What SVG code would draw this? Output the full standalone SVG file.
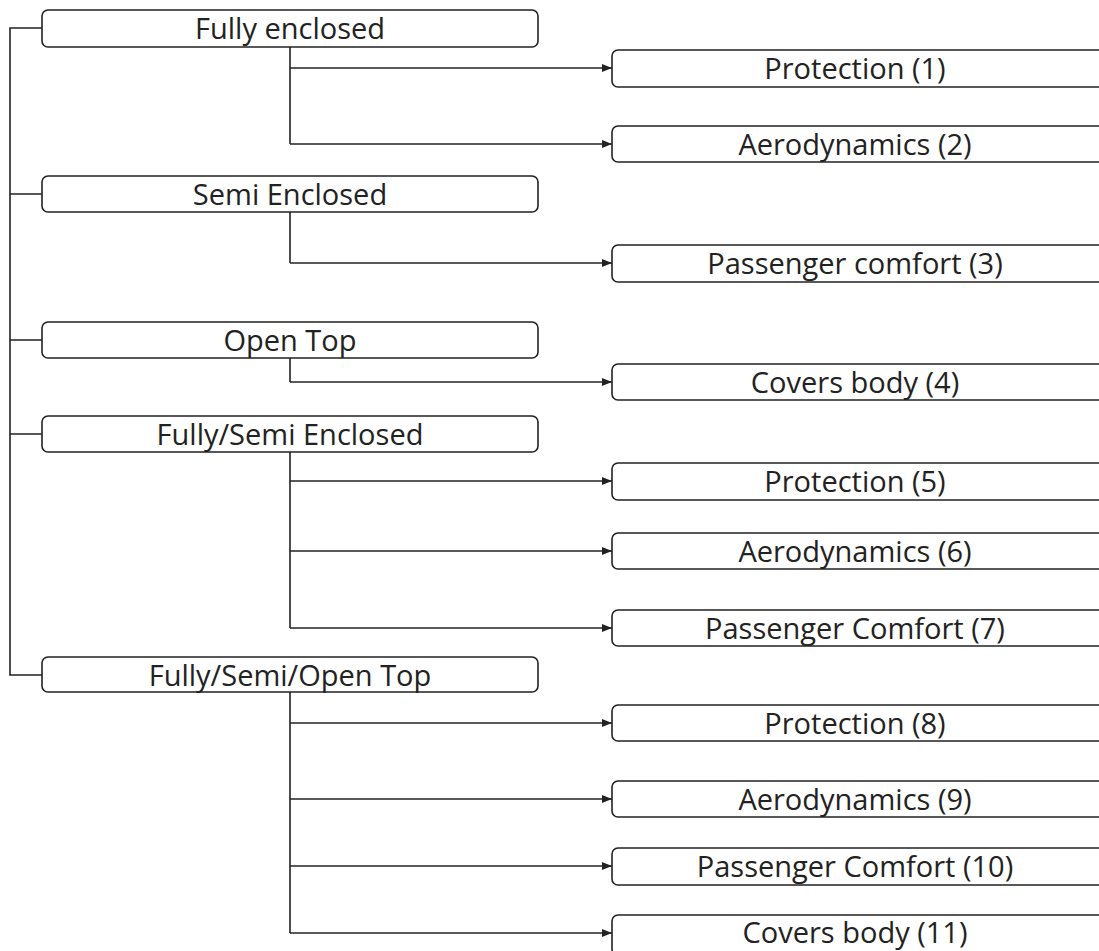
<svg xmlns="http://www.w3.org/2000/svg" width="1099" height="951" viewBox="0 0 1099 951">
  <style>
    .box { fill: #ffffff; stroke: #222222; stroke-width: 1.6; }
    .lbl { font-family: "Open Sans", "Noto Sans", sans-serif; font-size: 29px; fill: #222222; text-anchor: middle; }
    .wire { fill: none; stroke: #222222; stroke-width: 1.6; }
    .arrow { fill: none; stroke: #222222; stroke-width: 1.6; marker-end: url(#head); }
  </style>
  <defs>
    <marker id="head" viewBox="0 0 10 8" refX="10" refY="4" markerWidth="10" markerHeight="8" markerUnits="userSpaceOnUse" orient="auto">
      <path d="M0,0 L10,4 L0,8 Z" fill="#222222"/>
    </marker>
  </defs>
  <rect width="1099" height="951" fill="#ffffff"/>

  <g id="connectors">
    <!-- spine -->
    <path class="wire" d="M42,28 H10 V675 H42"/>
    <path class="wire" d="M10,194 H42 M10,340 H42 M10,434 H42"/>
    <!-- Fully enclosed -->
    <path class="wire" d="M290,47 V144"/>
    <path class="arrow" d="M290,68 H612"/>
    <path class="arrow" d="M290,144 H612"/>
    <!-- Semi Enclosed -->
    <path class="wire" d="M290,212 V263"/>
    <path class="arrow" d="M290,263 H612"/>
    <!-- Open Top -->
    <path class="wire" d="M290,358 V382"/>
    <path class="arrow" d="M290,382 H612"/>
    <!-- Fully/Semi Enclosed -->
    <path class="wire" d="M290,452 V628"/>
    <path class="arrow" d="M290,481 H612"/>
    <path class="arrow" d="M290,551 H612"/>
    <path class="arrow" d="M290,628 H612"/>
    <!-- Fully/Semi/Open Top -->
    <path class="wire" d="M290,692 V933"/>
    <path class="arrow" d="M290,723 H612"/>
    <path class="arrow" d="M290,799 H612"/>
    <path class="arrow" d="M290,866 H612"/>
    <path class="arrow" d="M290,933 H612"/>
  </g>

  <g id="fully-enclosed"><rect class="box" x="42" y="10" width="496" height="37" rx="6"/><text class="lbl" x="290" y="38.5">Fully enclosed</text></g>
  <g id="semi-enclosed"><rect class="box" x="42" y="176" width="496" height="36" rx="6"/><text class="lbl" x="290" y="204.5">Semi Enclosed</text></g>
  <g id="open-top"><rect class="box" x="42" y="322" width="496" height="36" rx="6"/><text class="lbl" x="290" y="350.5">Open Top</text></g>
  <g id="fully-semi-enclosed"><rect class="box" x="42" y="416" width="496" height="36" rx="6"/><text class="lbl" x="290" y="444.5">Fully/Semi Enclosed</text></g>
  <g id="fully-semi-open-top"><rect class="box" x="42" y="657" width="496" height="35" rx="6"/><text class="lbl" x="290" y="685.5">Fully/Semi/Open Top</text></g>

  <g id="protection-1"><rect class="box" x="612" y="50" width="494" height="37" rx="6"/><text class="lbl" x="855" y="78.5">Protection (1)</text></g>
  <g id="aerodynamics-2"><rect class="box" x="612" y="126" width="494" height="36" rx="6"/><text class="lbl" x="855" y="154.5">Aerodynamics (2)</text></g>
  <g id="passenger-comfort-3"><rect class="box" x="612" y="245" width="494" height="37" rx="6"/><text class="lbl" x="855" y="273.5">Passenger comfort (3)</text></g>
  <g id="covers-body-4"><rect class="box" x="612" y="364" width="494" height="36" rx="6"/><text class="lbl" x="855" y="392.5">Covers body (4)</text></g>
  <g id="protection-5"><rect class="box" x="612" y="463" width="494" height="37" rx="6"/><text class="lbl" x="855" y="491.5">Protection (5)</text></g>
  <g id="aerodynamics-6"><rect class="box" x="612" y="533" width="494" height="36" rx="6"/><text class="lbl" x="855" y="561.5">Aerodynamics (6)</text></g>
  <g id="passenger-comfort-7"><rect class="box" x="612" y="610" width="494" height="36" rx="6"/><text class="lbl" x="855" y="638.5">Passenger Comfort (7)</text></g>
  <g id="protection-8"><rect class="box" x="612" y="705" width="494" height="36" rx="6"/><text class="lbl" x="855" y="733.5">Protection (8)</text></g>
  <g id="aerodynamics-9"><rect class="box" x="612" y="781" width="494" height="36" rx="6"/><text class="lbl" x="855" y="809.5">Aerodynamics (9)</text></g>
  <g id="passenger-comfort-10"><rect class="box" x="612" y="848" width="494" height="37" rx="6"/><text class="lbl" x="855" y="876.5">Passenger Comfort (10)</text></g>
  <g id="covers-body-11"><rect class="box" x="612" y="915" width="494" height="40" rx="6"/><text class="lbl" x="855" y="943">Covers body (11)</text></g>
</svg>
